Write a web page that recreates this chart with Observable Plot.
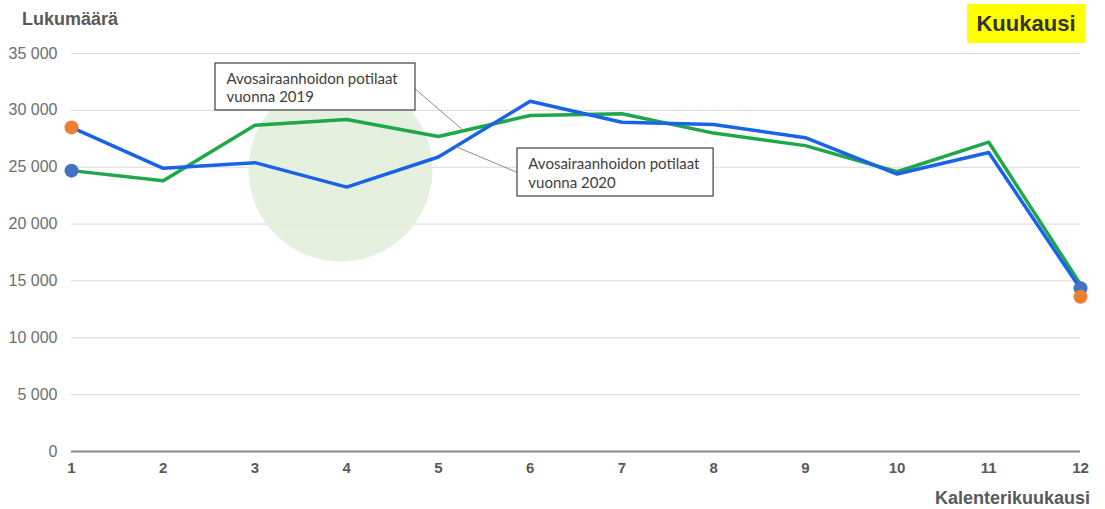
<!DOCTYPE html>
<html>
<head>
<meta charset="utf-8">
<script src="https://cdn.jsdelivr.net/npm/d3@7"></script>
<script src="https://cdn.jsdelivr.net/npm/@observablehq/plot@0.6"></script>
<style>
  html, body { margin: 0; padding: 0; background: #fff; }
  #wrap { position: relative; width: 1105px; height: 509px; font-family: "Liberation Sans", Arial, sans-serif; }
  #title { position: absolute; left: 22px; top: 9px; font-size: 18px; font-weight: bold; color: #595959; }
  #badge { position: absolute; left: 967px; top: 4px; width: 118px; height: 39px; background: #ffff00;
           font-size: 22px; font-weight: bold; color: #333; line-height: 39px; text-align: center; }
  #xlabel { position: absolute; right: 15px; top: 488px; font-size: 18px; font-weight: bold; color: #595959; }
</style>
</head>
<body>
<div id="wrap">
  <div id="chart"></div>
  <div id="title">Lukumäärä</div>
  <div id="badge">Kuukausi</div>
  <div id="xlabel">Kalenterikuukausi</div>
</div>
<script>
const months = [1, 2, 3, 4, 5, 6, 7, 8, 9, 10, 11, 12];
const values2019 = [24700, 23800, 28700, 29200, 27700, 29550, 29700, 28000, 26900, 24600, 27200, 14700];
const values2020 = [28500, 24900, 25400, 23250, 25900, 30800, 28950, 28750, 27600, 24400, 26300, 14300];
const yTicks = [0, 5000, 10000, 15000, 20000, 25000, 30000, 35000];

// endpoint markers
const orangeDotMonths = [1, 12];
const orangeDotValues = [28500, 13600];
const blueDotMonths = [1, 12];
const blueDotValues = [24700, 14350];

// annotations (data units)
const labelTexts = ["Avosairaanhoidon potilaat\nvuonna 2019", "Avosairaanhoidon potilaat\nvuonna 2020"];
const boxX1 = [2.57, 5.862];
const boxX2 = [4.75, 8.0];
const boxY1 = [29990, 22425];
const boxY2 = [34120, 26646];
const textX = [2.69, 5.98];
const textY = [32055, 24536];
const leaderX1 = [4.728, 5.186];
const leaderY1 = [32010, 26822];
const leaderX2 = [5.274, 5.862];
const leaderY2 = [28229, 24535];
const highlightMonth = [3.933];
const highlightValue = [24800];

const s2019 = months.map((m, i) => ({month: m, value: values2019[i]}));
const s2020 = months.map((m, i) => ({month: m, value: values2020[i]}));
const orangeDots = orangeDotMonths.map((m, i) => ({month: m, value: orangeDotValues[i]}));
const blueDots = blueDotMonths.map((m, i) => ({month: m, value: blueDotValues[i]}));
const boxes = labelTexts.map((t, i) => ({x1: boxX1[i], x2: boxX2[i], y1: boxY1[i], y2: boxY2[i], tx: textX[i], ty: textY[i], text: t}));
const leaders = leaderX1.map((x, i) => ({x1: x, y1: leaderY1[i], x2: leaderX2[i], y2: leaderY2[i]}));
const highlight = highlightMonth.map((m, i) => ({month: m, value: highlightValue[i]}));

const fmt = d => d3.format(",")(d).replace(/,/g, " ");

const chart = Plot.plot({
  width: 1105,
  height: 509,
  marginLeft: 71,
  marginRight: 25,
  marginTop: 53,
  marginBottom: 58,
  style: {fontFamily: '"Liberation Sans", Arial, sans-serif', background: "transparent"},
  x: {domain: [1, 12]},
  y: {domain: [0, 35000]},
  marks: [
    Plot.gridY(yTicks, {stroke: "#d9d9d9", strokeOpacity: 1, strokeWidth: 1}),
    Plot.dot(highlight, {x: "month", y: "value", r: 92, fill: "#e3eedb", fillOpacity: 0.9, stroke: null}),
    Plot.axisY(yTicks, {tickSize: 0, tickPadding: 14, tickFormat: fmt, fontSize: 16, fill: "#6e6e6e", label: null}),
    Plot.axisX(months, {tickSize: 0, tickPadding: 11, tickFormat: d => String(d), fontSize: 15, fontWeight: "bold", fill: "#595959", label: null}),
    Plot.ruleY([0], {stroke: "#8a8a8a", strokeWidth: 2}),
    Plot.line(s2019, {x: "month", y: "value", stroke: "#1fa84a", strokeWidth: 3.5}),
    Plot.line(s2020, {x: "month", y: "value", stroke: "#1b63e6", strokeWidth: 3.5}),
    Plot.dot(blueDots, {x: "month", y: "value", r: 7, fill: "#4472c4", stroke: null}),
    Plot.dot(orangeDots, {x: "month", y: "value", r: 7, fill: "#ed7d31", stroke: null}),
    Plot.link(leaders, {x1: "x1", y1: "y1", x2: "x2", y2: "y2", stroke: "#8c8c8c", strokeWidth: 1}),
    Plot.rect(boxes, {x1: "x1", x2: "x2", y1: "y1", y2: "y2", fill: "white", stroke: "#404040", strokeWidth: 1.2}),
    Plot.text(boxes, {x: "tx", y: "ty", text: "text", textAnchor: "start", lineAnchor: "middle", lineHeight: 1.25,
      fontSize: 15, fill: "#404040", fontFamily: "Lato, 'Open Sans', sans-serif"})
  ]
});
document.getElementById("chart").appendChild(chart);
</script>
</body>
</html>
